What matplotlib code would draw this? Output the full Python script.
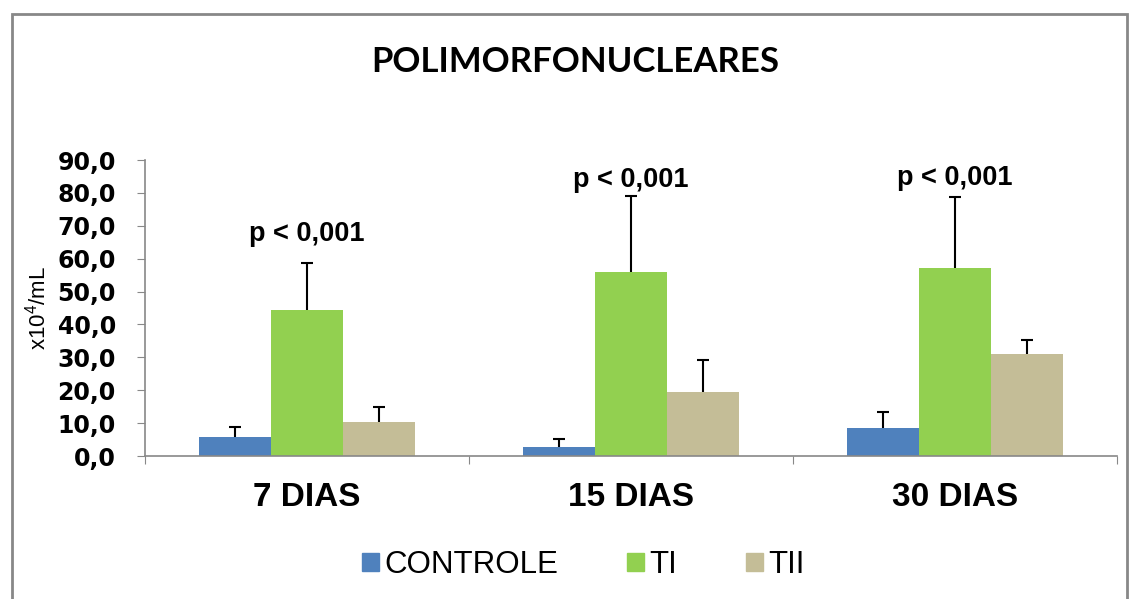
import numpy as np
import matplotlib
matplotlib.use("Agg")
import matplotlib.pyplot as plt
from matplotlib.patches import Rectangle

# dados
dias = ["7 DIAS", "15 DIAS", "30 DIAS"]
grupos = ["CONTROLE", "TI", "TII"]
controle = [5.9, 2.8, 8.4]
ti = [44.4, 56.0, 57.1]
tii = [10.3, 19.4, 30.9]
controle_dp = [2.8, 2.5, 5.1]
ti_dp = [14.4, 23.0, 21.5]
tii_dp = [4.7, 9.8, 4.5]
p_texto = ["p < 0,001", "p < 0,001", "p < 0,001"]
p_altura = [67.5, 84.0, 84.5]

cores = ["#4F81BD", "#92D050", "#C4BD97"]

plt.rcParams['font.family'] = ['Liberation Sans', 'DejaVu Sans']
plt.rcParams['mathtext.default'] = 'regular'

fig = plt.figure(figsize=(11.3, 5.99), dpi=100)
ax = fig.add_axes([145/1130, 1 - 456/599, 972/1130, 296/599])

x = np.arange(len(dias))
w = 1 / 4.5
series = [controle, ti, tii]
erros = [controle_dp, ti_dp, tii_dp]
for i in range(3):
    pos = x + (i - 1) * w
    ax.bar(pos, series[i], w, color=cores[i], label=grupos[i], zorder=2)
    eb = ax.errorbar(pos, series[i], yerr=[np.zeros(3), erros[i]], fmt='none',
                     ecolor='black', elinewidth=1.5, capsize=4, capthick=1.5, zorder=3)
    eb[1][0].set_visible(False)  # so a barra de cima

for k in range(3):
    ax.text(x[k], p_altura[k], p_texto[k], ha='center', va='center',
            fontsize=19.5, fontweight='bold')

ax.set_xlim(-0.5, 2.5)
ax.set_ylim(0, 90)
yt = np.arange(0, 91, 10)
ax.set_yticks(yt)
ax.set_yticklabels([("%.1f" % v).replace('.', ',') for v in yt],
                   fontsize=17, fontweight='bold', family='DejaVu Sans')
ax.set_xticks([-0.5, 0.5, 1.5, 2.5])
ax.set_xticklabels([])
ax.set_xticks(x, minor=True)
ax.set_xticklabels(dias, minor=True, fontsize=24, fontweight='bold')
ax.tick_params(axis='x', which='minor', length=0, pad=19)
ax.tick_params(axis='x', which='major', length=6, color='#888888', direction='out')
ax.tick_params(axis='y', length=6, color='#888888', direction='out', pad=15)
for s in ['top', 'right']:
    ax.spines[s].set_visible(False)
for s in ['left', 'bottom']:
    ax.spines[s].set_color('#888888')
    ax.spines[s].set_linewidth(1.2)
ax.set_ylabel("x10$^4$/mL", fontsize=16, labelpad=5)

fig.text(575/1130, 1 - 62/599, "POLIMORFONUCLEARES", ha='center', va='center',
         fontsize=25, fontweight='bold', family=['Lato', 'DejaVu Sans'])

handles = [Rectangle((0, 0), 1, 1, color=c) for c in cores]
fig.legend(handles, grupos, loc='center', bbox_to_anchor=(583/1130, 1 - 565/599),
           ncol=3, frameon=False, fontsize=22.5, handlelength=0.55, handleheight=0.55,
           handletextpad=0.17, columnspacing=2.2)

fig.patches.append(Rectangle((12/1130, -0.1), 1115/1130, 1.1 - 14/599,
                             transform=fig.transFigure, fill=False,
                             edgecolor='#888888', linewidth=2))

fig.savefig("out.png", dpi=100)
